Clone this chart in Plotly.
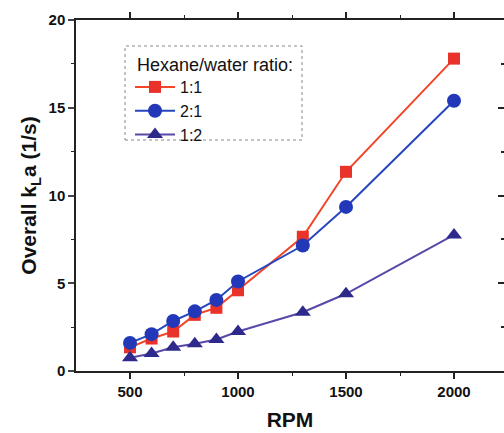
import plotly.graph_objects as go

rpm = [500, 600, 700, 800, 900, 1000, 1300, 1500, 2000]
kla_1_1 = [1.35, 1.85, 2.25, 3.2, 3.6, 4.6, 7.65, 11.35, 17.8]
kla_2_1 = [1.6, 2.1, 2.85, 3.4, 4.05, 5.1, 7.15, 9.35, 15.4]
kla_1_2 = [0.75, 1.0, 1.35, 1.55, 1.8, 2.25, 3.35, 4.4, 7.75]
series_names = ["1:1", "2:1", "1:2"]
legend_title = "Hexane/water ratio:"
x_ticks = [500, 1000, 1500, 2000]
x_minor = [750, 1250, 1750]
y_ticks = [0, 5, 10, 15, 20]
y_minor = [2.5, 7.5, 12.5, 17.5]

fig = go.Figure()
fig.add_trace(go.Scatter(x=rpm, y=kla_1_1, name=series_names[0], mode="lines+markers",
                         line=dict(color="#f2462a", width=2),
                         marker=dict(symbol="square", size=12, color="#e8322a")))
fig.add_trace(go.Scatter(x=rpm, y=kla_2_1, name=series_names[1], mode="lines+markers",
                         line=dict(color="#2646c0", width=2),
                         marker=dict(symbol="circle", size=14, color="#2238b8")))
fig.add_trace(go.Scatter(x=rpm, y=kla_1_2, name=series_names[2], mode="lines+markers",
                         line=dict(color="#5a48a8", width=2),
                         marker=dict(symbol="triangle-up", size=14, color="#2e2a8c")))

W, H = 504, 433
L, R, T, B = 76, 0, 20, 62
pw = W - L - R
ph = H - T - B
xr = [250, 250 + pw / 108 * 500]
yr = [0, 20]

fam = "Liberation Sans, Arial"
tickfont = dict(family=fam, size=15, color="#111", weight="bold")
fig.update_layout(
    width=W, height=H,
    margin=dict(l=L, r=R, t=T, b=B, autoexpand=False),
    paper_bgcolor="white", plot_bgcolor="white",
    showlegend=True,
    legend=dict(
        x=(130 - L) / pw, y=(371 - 70) / ph, xanchor="left", yanchor="top",
        bgcolor="rgba(0,0,0,0)", borderwidth=0,
        font=dict(family=fam, size=16, color="#111"),
        tracegroupgap=0, itemwidth=40,
    ),
    xaxis=dict(
        range=xr, tickvals=x_ticks, ticks="outside", ticklen=6, tickwidth=1.5, tickcolor="#222",
        showline=True, linecolor="#222", linewidth=1.5, showgrid=False, zeroline=False, mirror="ticks",
        tickfont=tickfont,
        minor=dict(tickvals=x_minor, ticks="outside", ticklen=3, tickwidth=1.2, tickcolor="#222"),
        title=dict(text="<b>RPM</b>", font=dict(family=fam, size=21, color="#111"), standoff=14),
    ),
    yaxis=dict(
        range=yr, tickvals=y_ticks, ticks="outside", ticklen=6, tickwidth=1.5,
        showline=True, linecolor="#222", linewidth=1.5, showgrid=False, zeroline=False,
        tickfont=tickfont,
        minor=dict(tickvals=y_minor, ticks="outside", ticklen=3, tickwidth=1.2, tickcolor="#222"),
        title=dict(text="<b>Overall k<sub>L</sub>a (1/s)</b>", font=dict(family=fam, size=21, color="#111"), standoff=6),
    ),
    yaxis2=dict(overlaying="y", side="right", anchor="x", range=yr, tickvals=y_ticks, ticks="inside", ticklen=6,
                tickwidth=1.5, tickcolor="#222", showticklabels=False, showline=True, linecolor="#222",
                linewidth=1.5, showgrid=False, zeroline=False,
                minor=dict(tickvals=y_minor, ticks="inside", ticklen=3, tickcolor="#222")),
)
fig.add_shape(type="rect", xref="paper", yref="paper",
              x0=(125 - L) / pw, x1=(302 - L) / pw, y0=(371 - 140) / ph, y1=(371 - 46) / ph,
              line=dict(color="#888", width=1, dash="dot"), fillcolor="rgba(0,0,0,0)")
fig.add_annotation(text=legend_title, xref="paper", yref="paper",
                   x=(135 - L) / pw, y=(371 - 65) / ph, xanchor="left", yanchor="middle",
                   showarrow=False, font=dict(family=fam, size=18, color="#111"))
fig.add_trace(go.Scatter(x=[None], y=[None], xaxis="x", yaxis="y2", showlegend=False, hoverinfo="skip"))
fig.write_html("out.html", config={"displayModeBar": False},
               post_script="document.body.style.margin='0';document.body.style.overflow='hidden';")
